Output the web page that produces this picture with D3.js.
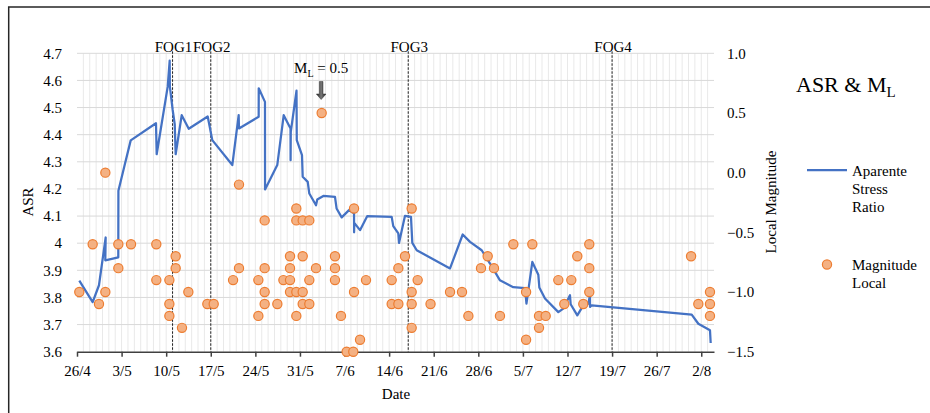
<!DOCTYPE html>
<html>
<head>
<meta charset="utf-8">
<script src="https://cdn.jsdelivr.net/npm/d3@7"></script>
<style>
  html, body { margin: 0; padding: 0; background: #fff; }
  svg { display: block; }
  svg text { font-family: "Liberation Serif", "Times New Roman", serif; }
</style>
</head>
<body>
<script>
// days counted from 26/4
const asrDays = [0.36, 2.46, 3.45, 4.5, 4.44, 6.48, 6.5, 7.54, 8.43, 12.4, 12.51, 14.24, 14.55, 14.58, 15.02, 15.34, 15.49, 16.44, 17.54, 20.52,
  21.24, 24.38, 25.38, 25.43, 28.52, 28.53, 29.51, 29.52, 31.44, 32.45, 33.52, 33.53, 33.56, 34.46, 34.5, 35.32, 35.43, 36.22, 36.47, 37.52,
  37.72, 38.67, 40.5, 40.75, 41.55, 42.7, 43.49, 43.5, 43.53, 44.43, 45.57, 49.4, 49.65, 50.44, 50.55, 51.49, 52.43, 52.64, 53.33, 58.56,
  60.55, 61.7, 63.53, 64.84, 66.4, 68.49, 70.33, 70.56, 71.48, 72.42, 72.58, 73.47, 75.56, 76.34, 77.39, 77.5, 78.54, 79.48, 80.27, 80.53,
  80.54, 80.8, 96.5, 97.54, 99.37, 99.48];
const asrValues = [3.862, 3.783, 3.845, 4.021, 3.937, 3.948, 4.193, 4.294, 4.379, 4.442, 4.328, 4.577, 4.673, 4.577, 4.491, 4.439, 4.328, 4.472, 4.422, 4.467,
  4.38, 4.288, 4.472, 4.423, 4.466, 4.571, 4.521, 4.198, 4.288, 4.472, 4.423, 4.306, 4.41, 4.562, 4.38, 4.325, 4.245, 4.226, 4.183, 4.14,
  4.161, 4.174, 4.171, 4.128, 4.095, 4.122, 4.11, 4.04, 4.075, 4.048, 4.1, 4.097, 4.063, 4.036, 4.001, 4.101, 4.097, 4.001, 3.974, 3.907,
  4.032, 4.005, 3.974, 3.925, 3.863, 3.838, 3.834, 3.777, 3.931, 3.884, 3.837, 3.796, 3.746, 3.759, 3.808, 3.775, 3.734, 3.771, 3.777, 3.808,
  3.765, 3.771, 3.737, 3.703, 3.679, 3.632];

const mlDays = [0.36, 2.46, 3.45, 4.45, 4.45, 6.49, 6.49, 8.48, 12.45, 12.45, 14.5, 14.5, 14.5, 15.49, 15.49, 16.48, 17.48, 20.46, 21.46, 24.5,
  25.43, 25.43, 28.47, 28.47, 29.46, 29.46, 29.46, 29.46, 31.45, 32.4, 33.44, 33.44, 33.44, 33.44, 34.43, 34.43, 34.43, 34.43, 35.43, 35.43,
  35.43, 35.43, 36.47, 36.47, 36.47, 37.52, 38.41, 40.5, 40.5, 40.5, 41.44, 42.33, 43.37, 43.49, 43.49, 44.43, 45.37, 49.4, 49.4, 50.45,
  50.45, 51.49, 52.54, 52.54, 52.54, 52.54, 53.48, 55.5, 58.56, 60.44, 61.44, 63.42, 64.47, 65.46, 66.4, 68.5, 70.5, 70.5, 71.48, 72.53,
  72.53, 73.58, 75.56, 76.5, 77.6, 78.54, 79.48, 80.42, 80.42, 80.42, 96.4, 97.54, 99.37, 99.37, 99.37];
const mlValues = [-1.0, -0.6, -1.1, -1.0, 0.0, -0.6, -0.8, -0.6, -0.6, -0.9, -0.9, -1.1, -1.2, -0.7, -0.8, -1.3, -1.0, -1.1, -1.1, -0.9,
  -0.8, -0.1, -0.9, -1.2, -0.8, -1.0, -1.1, -0.4, -1.1, -0.9, -0.7, -0.8, -0.9, -1.0, -0.3, -0.4, -1.0, -1.2, -0.4, -0.7,
  -1.0, -1.1, -0.4, -0.9, -1.1, -0.8, 0.5, -0.7, -0.8, -0.9, -1.2, -1.5, -1.5, -0.3, -1.0, -1.4, -0.9, -0.9, -1.1, -0.8,
  -1.1, -0.7, -0.3, -1.0, -1.1, -1.3, -0.9, -1.1, -1.0, -1.0, -1.2, -0.8, -0.7, -0.8, -1.2, -0.6, -1.0, -1.4, -0.6, -1.2,
  -1.3, -1.2, -0.9, -1.1, -0.9, -0.7, -1.1, -0.6, -0.8, -1.0, -0.7, -1.1, -1.0, -1.1, -1.2];

const fogLabels = ["FOG1", "FOG2", "FOG3", "FOG4"];
const fogDays = [15, 21, 52, 84];

const asrTicks = [3.6, 3.7, 3.8, 3.9, 4.0, 4.1, 4.2, 4.3, 4.4, 4.5, 4.6, 4.7];
const mlTicks = [-1.5, -1.0, -0.5, 0.0, 0.5, 1.0];
const dateTickDays = [0, 7, 14, 21, 28, 35, 42, 49, 56, 63, 70, 77, 84, 91, 98];

const base = Date.UTC(2019, 3, 26);
const toDate = (d) => new Date(base + d * 864e5);

const width = 930, height = 413;
const plotLeft = 77, plotRight = 714, plotTop = 53.3, plotBottom = 351.7;

const x = d3.scaleUtc().domain([toDate(0), toDate(100)]).range([plotLeft, plotRight]);
const yL = d3.scaleLinear().domain([3.6, 4.7]).range([plotBottom, plotTop]);
const yR = d3.scaleLinear().domain([-1.5, 1.0]).range([plotBottom, plotTop]);

const blue = "#4472C4", orange = "#ED7D31", orangeFill = "#F4B183", txt = "#000";
const serif = "Liberation Serif, Times New Roman, serif";

const svg = d3.select("body").append("svg")
  .attr("width", width).attr("height", height)
  .attr("font-family", serif);

// frame
svg.append("path").attr("d", `M8.7,${height} V7 H${width}`)
  .attr("fill", "none").attr("stroke", "#262626").attr("stroke-width", 1.5);

// daily vertical grid
svg.append("g").selectAll("line").data(d3.range(1, 100)).join("line")
  .attr("x1", (d) => x(toDate(d))).attr("x2", (d) => x(toDate(d)))
  .attr("y1", plotTop).attr("y2", plotBottom)
  .attr("stroke", "#e9e9e9").attr("stroke-width", 1);

// horizontal grid
svg.append("g").selectAll("line").data(asrTicks.slice(1)).join("line")
  .attr("x1", plotLeft).attr("x2", plotRight)
  .attr("y1", (d) => yL(d)).attr("y2", (d) => yL(d))
  .attr("stroke", "#d9d9d9").attr("stroke-width", 1);

// left tick labels
svg.append("g").selectAll("text").data(asrTicks).join("text")
  .attr("x", 62).attr("y", (d) => yL(d)).attr("dy", "0.35em")
  .attr("text-anchor", "end").attr("font-size", 15).attr("fill", txt)
  .text((d) => d3.format("~g")(d));

// right tick labels
svg.append("g").selectAll("text").data(mlTicks).join("text")
  .attr("x", 727).attr("y", (d) => yR(d)).attr("dy", "0.35em")
  .attr("text-anchor", "start").attr("font-size", 15).attr("fill", txt)
  .text((d) => d3.format(".1f")(d));

// bottom axis
const xAxis = d3.axisBottom(x)
  .tickValues(dateTickDays.map(toDate))
  .tickFormat(d3.utcFormat("%-d/%-m"))
  .tickSize(5).tickSizeOuter(0);
const gx = svg.append("g").attr("transform", `translate(0,${plotBottom})`).call(xAxis)
  .attr("font-family", serif);
gx.select(".domain").attr("stroke", "#404040").attr("stroke-width", 1.5);
gx.selectAll(".tick line").attr("stroke", "#404040").attr("stroke-width", 1.5);
gx.selectAll(".tick text").attr("font-size", 15)
  .attr("fill", txt).attr("dy", 0).attr("y", 24);

// axis titles
svg.append("text").attr("transform", "translate(33,202) rotate(-90)")
  .attr("text-anchor", "middle").attr("font-size", 15).text("ASR");
svg.append("text").attr("transform", "translate(776,202) rotate(-90)")
  .attr("text-anchor", "middle").attr("font-size", 15).text("Local Magnitude");
svg.append("text").attr("x", 396).attr("y", 398.5)
  .attr("text-anchor", "middle").attr("font-size", 15).text("Date");

// FOG markers
const fog = svg.append("g");
fog.selectAll("line").data(fogDays).join("line")
  .attr("x1", (d) => x(toDate(d))).attr("x2", (d) => x(toDate(d)))
  .attr("y1", plotTop - 2).attr("y2", plotBottom)
  .attr("stroke", "#202020").attr("stroke-width", 1).attr("stroke-dasharray", "2.5,1.5");
fog.selectAll("text").data(fogDays).join("text")
  .attr("x", (d) => x(toDate(d)) + 1).attr("y", 51.5)
  .attr("text-anchor", "middle").attr("font-size", 15)
  .text((d, i) => fogLabels[i]);

// ASR line
const line = d3.line()
  .x((d, i) => x(toDate(asrDays[i])))
  .y((d) => yL(d));
svg.append("path").datum(asrValues)
  .attr("d", line)
  .attr("fill", "none").attr("stroke", blue).attr("stroke-width", 2.25)
  .attr("stroke-linejoin", "round");

// magnitude points
svg.append("g").selectAll("circle").data(mlValues).join("circle")
  .attr("cx", (d, i) => x(toDate(mlDays[i])))
  .attr("cy", (d) => yR(d))
  .attr("r", 4.6)
  .attr("fill", orangeFill).attr("stroke", orange).attr("stroke-width", 1.2);

// M_L = 0.5 annotation
const maxIdx = mlValues.indexOf(d3.max(mlValues));
const ax = x(toDate(mlDays[maxIdx])) - 0.5;
const ann = svg.append("text").attr("x", ax).attr("y", 72.5)
  .attr("text-anchor", "middle").attr("font-size", 15);
ann.append("tspan").text("M");
ann.append("tspan").attr("font-size", 10).attr("dy", 4).text("L");
ann.append("tspan").attr("dy", -4).text(" = 0.5");

const grad = svg.append("defs").append("linearGradient").attr("id", "arr")
  .attr("x1", 0).attr("x2", 1).attr("y1", 0).attr("y2", 0);
grad.append("stop").attr("offset", 0).attr("stop-color", "#222");
grad.append("stop").attr("offset", 0.5).attr("stop-color", "#777");
grad.append("stop").attr("offset", 1).attr("stop-color", "#222");
svg.append("path")
  .attr("d", `M${ax - 1.8},81.5 h3.6 v12.5 h3 l-4.8,5.5 l-4.8,-5.5 h3 z`)
  .attr("fill", "url(#arr)").attr("stroke", "#333").attr("stroke-width", 0.5);

// title
const title = svg.append("text").attr("x", 796).attr("y", 91.5).attr("font-size", 22);
title.append("tspan").text("ASR & M");
title.append("tspan").attr("font-size", 15).attr("dy", 5).text("L");

// legend
const lg = svg.append("g").attr("font-size", 15);
lg.append("line").attr("x1", 807).attr("x2", 847).attr("y1", 170).attr("y2", 170)
  .attr("stroke", blue).attr("stroke-width", 2.25);
["Aparente", "Stress", "Ratio"].forEach((t, i) => {
  lg.append("text").attr("x", 852).attr("y", 175.5 + i * 18.3).text(t);
});
lg.append("circle").attr("cx", 827).attr("cy", 264.5).attr("r", 4.6)
  .attr("fill", orangeFill).attr("stroke", orange).attr("stroke-width", 1.2);
["Magnitude", "Local"].forEach((t, i) => {
  lg.append("text").attr("x", 852).attr("y", 270 + i * 18.3).text(t);
});
</script>
</body>
</html>
